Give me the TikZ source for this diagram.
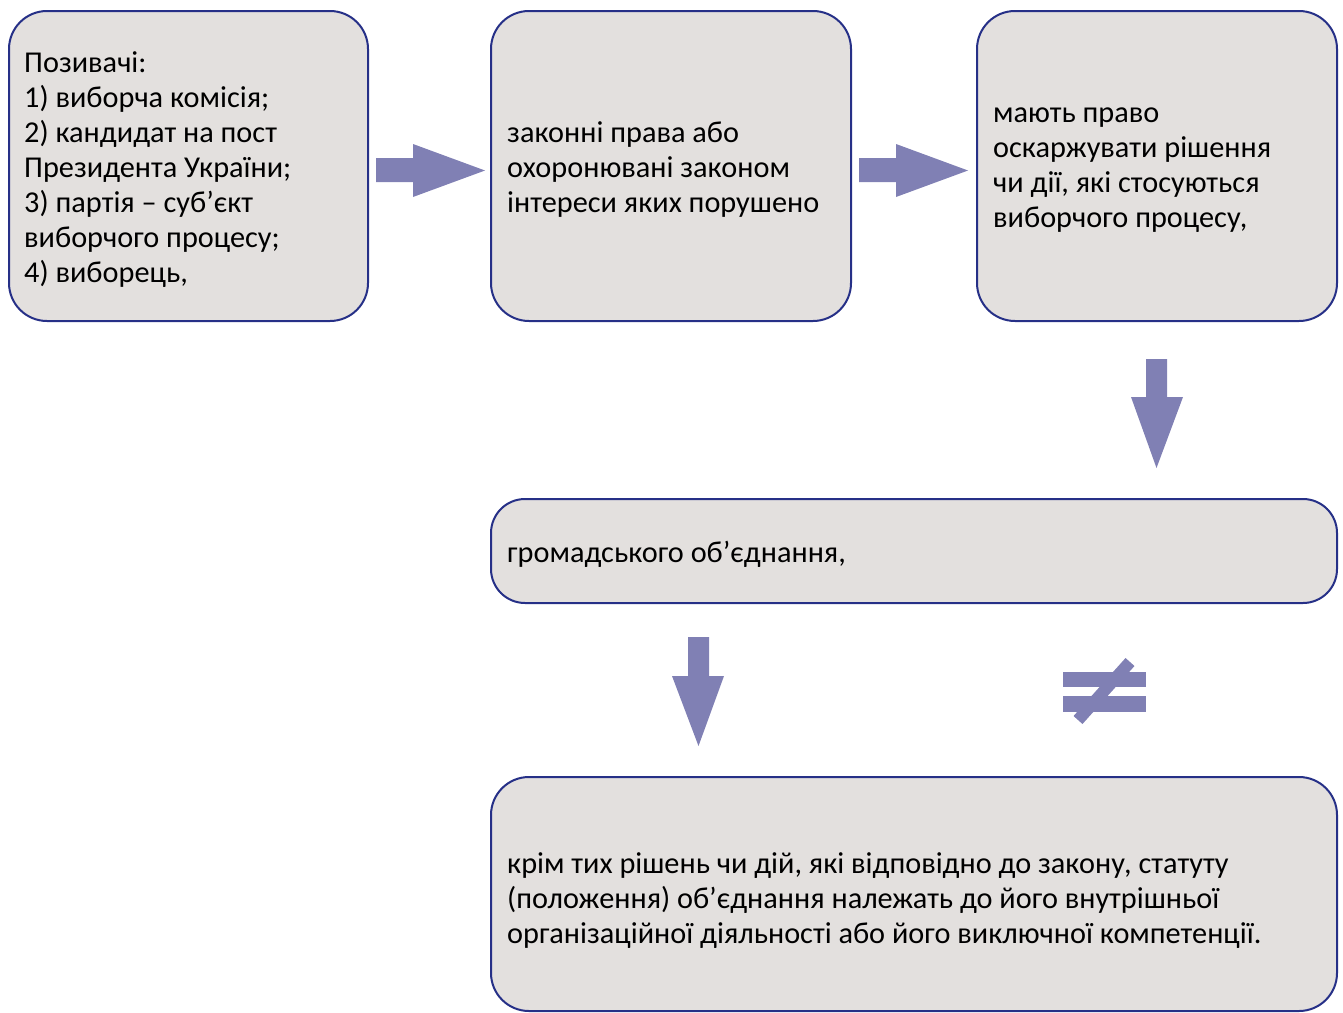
\documentclass[tikz,border=0pt]{standalone}
\usepackage{fontspec}
\setmainfont{Carlito}
\definecolor{boxfill}{RGB}{227,224,222}
\definecolor{boxline}{RGB}{38,48,135}
\definecolor{arrowc}{RGB}{128,128,180}
\begin{document}
\begin{tikzpicture}[x=1pt,y=-1pt,
  box/.style={draw=boxline, line width=2pt, fill=boxfill, rounded corners=38pt,
    anchor=north west, inner sep=0pt},
  txt/.style={anchor=west, inner sep=0pt, align=left,
    font=\fontsize{30.3}{35}\selectfont},
  blockarrow/.style={fill=arrowc, draw=none}]
\useasboundingbox (0,0) rectangle (1343,1012);
% boxes
\node[box, minimum width=359pt, minimum height=310pt] (b1) at (8,10) {};
\node[box, minimum width=360pt, minimum height=310pt] (b2) at (490,10) {};
\node[box, minimum width=360pt, minimum height=310pt] (b3) at (976,10) {};
\node[box, minimum width=846pt, minimum height=104pt, rounded corners=34pt] (b4) at (490,498) {};
\node[box, minimum width=846pt, minimum height=234pt] (b5) at (490,776) {};
% texts
\node[txt] (t1) at ([xshift=16pt,yshift=-4pt]b1.west)
  {Позивачі:\\1) виборча комісія;\\2) кандидат на пост\\Президента України;\\3) партія – суб’єкт\\виборчого процесу;\\4) виборець,};
\node[txt] (t2) at ([xshift=17pt,yshift=-4pt]b2.west)
  {законні права або\\охоронювані законом\\інтереси яких порушено};
\node[txt] (t3) at ([xshift=17pt,yshift=-4pt]b3.west)
  {мають право\\оскаржувати рішення\\чи дії, які стосуються\\виборчого процесу,};
\node[txt] (t4) at ([xshift=17pt,yshift=-3pt]b4.west)
  {громадського об’єднання,};
\node[txt] (t5) at ([xshift=17pt,yshift=-7pt]b5.west)
  {крім тих рішень чи дій, які відповідно до закону, статуту\\(положення) об’єднання належать до його внутрішньої\\організаційної діяльності або його виключної компетенції.};
% block arrows
\fill[blockarrow] (376,158) -- (413,158) -- (413,144) -- (485,170.5) -- (413,197) -- (413,182) -- (376,182) -- cycle;
\fill[blockarrow] (859,158) -- (896,158) -- (896,144) -- (968,170.5) -- (896,197) -- (896,182) -- (859,182) -- cycle;
\fill[blockarrow] (1146,359) -- (1167,359) -- (1167,397) -- (1183,397) -- (1156.5,468) -- (1131,397) -- (1146,397) -- cycle;
\fill[blockarrow] (688,637) -- (709,637) -- (709,676) -- (724,676) -- (698.5,746) -- (672,676) -- (688,676) -- cycle;
% not equal sign
\fill[blockarrow] (1063,672) rectangle (1146,687);
\fill[blockarrow] (1063,696) rectangle (1146,712);
\draw[arrowc, line width=12pt] (1078,720) -- (1130,662);
\end{tikzpicture}
\end{document}
